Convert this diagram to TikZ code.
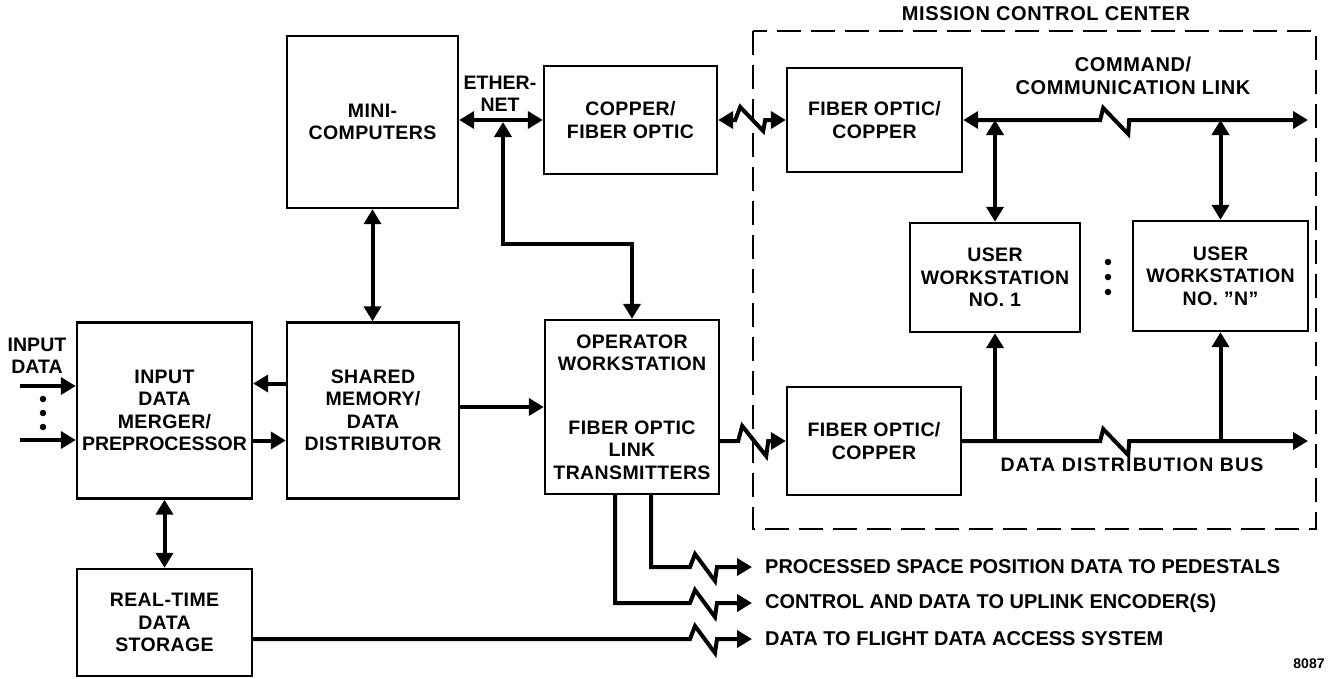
\documentclass[tikz,border=0pt]{standalone}
\usepackage{fontspec}
\setmainfont{Liberation Sans}[LetterSpace=2]
\newfontfamily\plainfont{Liberation Sans}
\newfontfamily\wideafont{Liberation Sans}[LetterSpace=3]
\newfontfamily\widebfont{Liberation Sans}[LetterSpace=6]
\usetikzlibrary{arrows.meta}
\begin{document}
\begin{tikzpicture}[x=1pt,y=-1pt,
  txt/.style={font=\fontsize{19.5}{22.5}\selectfont\bfseries, align=center, inner sep=0pt},
  plaintxt/.style={txt, font=\plainfont\fontsize{19.5}{22.5}\selectfont\bfseries},
  widetxt/.style={txt, font=\wideafont\fontsize{20}{23}\selectfont\bfseries},
  outtxt/.style={txt, anchor=west, font=\plainfont\fontsize{20}{23}\selectfont\bfseries},
  box/.style={txt, draw, line width=2.4pt, rectangle},
  conn/.style={line width=4pt, miter limit=3, >={Triangle[length=15pt,width=17pt]}},
  mccbox/.style={line width=2pt, dash pattern=on 24pt off 10pt},
  dotmark/.style={fill, circle, inner sep=0pt, minimum size=6.5pt},
]
\useasboundingbox (0,0) rectangle (1336,678);

% boxes
\node[box, minimum width=171pt, minimum height=172pt] (mini) at (372.5,122) {MINI-\\COMPUTERS};
\node[box, minimum width=172pt, minimum height=176pt] (sm) at (373,410.5) {SHARED\\MEMORY/\\DATA\\DISTRIBUTOR};
\node[box, minimum width=175pt, minimum height=176pt] (mg) at (164.5,410.5) {INPUT\\DATA\\MERGER/\\{\plainfont PREPROCESSOR}};
\node[box, minimum width=175pt, minimum height=107pt] (rt) at (164.5,622.5) {REAL-TIME\\DATA\\STORAGE};
\node[box, minimum width=173pt, minimum height=108pt] (cf) at (630.5,120) {COPPER/\\FIBER OPTIC};
\node[box, minimum width=174pt, minimum height=174pt] (op) at (632,407) {OPERATOR\\WORKSTATION\\[41pt]FIBER OPTIC\\LINK\\TRANSMITTERS};
\node[box, minimum width=175pt, minimum height=104pt] (fo1) at (874.5,120) {FIBER OPTIC/\\COPPER};
\node[box, minimum width=174pt, minimum height=108pt] (fo2) at (874,441) {FIBER OPTIC/\\COPPER};
\node[box, minimum width=170pt, minimum height=109pt] (ws1) at (995,277.5) {USER\\WORKSTATION\\NO. 1};
\node[box, minimum width=175pt, minimum height=110pt] (wsn) at (1220.5,276) {USER\\WORKSTATION\\NO. ''N''};

% mission control center
\draw[mccbox] (753,31) rectangle (1316,529);
\node[widetxt] (mcc) at (1046,14) {MISSION CONTROL CENTER};

% labels
\node[plaintxt] (inlbl) at (37,356) {INPUT\\DATA};
\node[plaintxt] (eth) at (500,94) {ETHER-\\NET};
\node[widetxt] (cmdlbl) at (1133,76) {COMMAND/\\COMMUNICATION LINK};
\node[txt, font=\widebfont\fontsize{19.5}{22.5}\selectfont\bfseries] (buslbl) at (1132,465) {DATA DISTRIBUTION BUS};

% coordinates
\coordinate (in1) at (20,386);
\coordinate (in2) at (20,440);
\coordinate (ethj) at (503,122);
\coordinate (ethturn) at (632,244);
\coordinate (cmdend) at (1308,120);
\coordinate (busend) at (1308,441);
\coordinate (b1) at (690,567);
\coordinate (b2) at (690,603);
\coordinate (b3) at (690,639);
\coordinate (o1) at (752,567);
\coordinate (o2) at (752,603);
\coordinate (o3) at (752,639);

% input arrows
\draw[conn,->] (in1) -- (in1 -| mg.west);
\draw[conn,->] (in2) -- (in2 -| mg.west);
\foreach \yy [count=\i] in {399,413,427} \node[dotmark] (ind\i) at (43,\yy) {};

% left side connectors
\draw[conn,<->] (mini.south) -- (mini.south |- sm.north);
\draw[conn,->] ([yshift=27pt]sm.west) -- ([yshift=27pt]mg.east);
\draw[conn,->] ([yshift=-30pt]mg.east) -- ([yshift=-30pt]sm.west);
\draw[conn,->] (sm.east |- op.west) -- (op.west);
\draw[conn,<->] (mg.south) -- (mg.south |- rt.north);

% ethernet
\draw[conn,<->] (mini.east |- cf.west) -- (cf.west);
\draw[conn,<->] (ethj) |- (ethturn) -- (op.north);

% copper - fiber link
\draw[conn,<->] (cf.east) -- ++(17,0) -- ++(5,-13) -- ++(23,24) -- ++(2,-11) -- (fo1.west);
% operator - fiber link
\draw[conn,->] (op.east |- fo2.west) -- ++(18,0) -- ++(4,-15) -- ++(24,30) -- ++(2,-15) -- (fo2.west);

% command link
\draw[conn,<->] (fo1.east) -- ++(137,0) -- ++(3,-12) -- ++(25,26) -- ++(1,-14) -- (cmdend);
\draw[conn,<->] (ws1.north |- fo1.east) -- (ws1.north);
\draw[conn,<->] (wsn.north |- fo1.east) -- (wsn.north);

% data distribution bus
\draw[conn,->] (fo2.east) -- ++(138,0) -- ++(3,-12) -- ++(25,26) -- ++(1,-14) -- (busend);
\draw[conn,->] (ws1.south |- fo2.east) -- (ws1.south);
\draw[conn,->] (wsn.south |- fo2.east) -- (wsn.south);
\foreach \yy [count=\i] in {262,277,292} \node[dotmark] (wsd\i) at (1108,\yy) {};

% outputs
\draw[conn,->] ([xshift=19pt]op.south) |- (b1) -- ++(5,-13) -- ++(20,27) -- ++(2,-14) -- (o1);
\draw[conn,->] ([xshift=-17pt]op.south) |- (b2) -- ++(5,-13) -- ++(20,27) -- ++(2,-14) -- (o2);
\draw[conn,->] (rt.east |- b3) -- (b3) -- ++(5,-13) -- ++(20,27) -- ++(2,-14) -- (o3);
\node[outtxt] (t1) at (765,567) {PROCESSED SPACE POSITION DATA TO PEDESTALS};
\node[outtxt] (t2) at (765,603) {CONTROL AND DATA TO UPLINK ENCODER(S)};
\node[outtxt] (t3) at (765,639) {DATA TO FLIGHT DATA ACCESS SYSTEM};

\node[plaintxt, font=\plainfont\fontsize{14}{16}\selectfont\bfseries] (num) at (1309,664) {8087};
\end{tikzpicture}
\end{document}
